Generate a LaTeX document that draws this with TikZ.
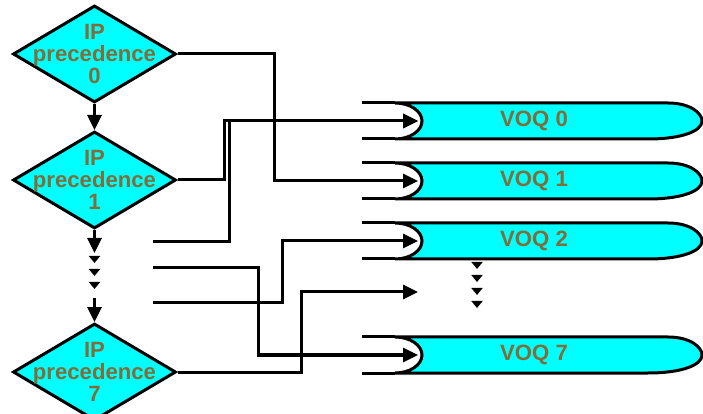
\documentclass[tikz,border=0pt]{standalone}
\usepackage{xcolor}
\usepackage{fontspec}
\setmainfont{Liberation Sans}
\usepackage{tikz}
\usetikzlibrary{shapes,positioning,calc,decorations.markings,arrows.meta}

\definecolor{qcyan}{RGB}{0,255,255}
\definecolor{qtext}{RGB}{128,110,58}

\begin{document}
\begin{tikzpicture}[
        x=0.2mm, y=-0.2mm,
        line width=0.6mm,
        prec/.style={draw, diamond, fill=qcyan, inner sep=0pt, minimum width=32.6mm, minimum height=19.4mm},
        lbl/.style={align=center, text=qtext, font=\bfseries\fontsize{12.6}{12.4}\selectfont},
        link/.style={draw, -{Triangle[length=3mm,width=2.8mm]}},
        dots/.style={decoration={markings, mark=between positions 0 and 1 step 2.6mm with {\arrow{Triangle[length=1.4mm,width=2.2mm]}}}, decorate}
    ]
        \useasboundingbox (0,0) rectangle (703,414);

        % precedence tests
        \node[prec, label={[lbl]center:IP\\precedence\\0}] (d0) at (94.5,54) {};
        \node[prec, below=5.2mm of d0, label={[lbl]center:IP\\precedence\\1}] (d1) {};
        \node[prec, below=18.4mm of d1, label={[lbl]center:IP\\precedence\\7}] (d7) {};

        % queues
        \foreach \q/\yy in {0/121, 1/181, 2/241, 7/355} {
            \filldraw[fill=qcyan] (395,\yy-18) -- (668,\yy-18)
                .. controls (690,\yy-18) and (702,\yy-8) .. (702,\yy)
                .. controls (702,\yy+10) and (682,\yy+18) .. (648,\yy+18)
                -- (395,\yy+18)
                arc[start angle=90, end angle=-90, x radius=27, y radius=18] -- cycle;
            \draw (362,\yy-18) -- (395,\yy-18) (362,\yy+18) -- (395,\yy+18);
            \node[lbl] (q\q) at (534,\yy) {VOQ \q};
            \coordinate (q\q-in) at (418,\yy);
        }

        % chain down the left
        \coordinate (c1) at (94.5,253);
        \coordinate (c2) at (94.5,298);
        \draw[link] (d0.south) -- (d1.north);
        \draw[link] (d1.south) -- (c1);
        \path[dots] (94.5,263) -- (94.5,290);
        \draw[link] (c2) -- (d7.north);
        \path[dots] (477,269) -- (477,309);

        % loose inputs
        \coordinate (in2) at (153,242);
        \coordinate (in3) at (153,268);
        \coordinate (in4) at (153,303);
        \coordinate (gap) at (418,292);

        \draw[link] (d0.east) -- ++(97,0) |- (q1-in);
        \draw[link] (d1.east) -- ++(47,0) |- (q0-in);
        \draw[link] (in2) -- ++(76,0) |- (q0-in);
        \draw[link] (in3) -- ++(105,0) |- (q7-in);
        \draw[link] (in4) -- ++(129,0) |- (q2-in);
        \draw[link] (d7.east) -- ++(124,0) |- (gap);
    \end{tikzpicture}
\end{document}
